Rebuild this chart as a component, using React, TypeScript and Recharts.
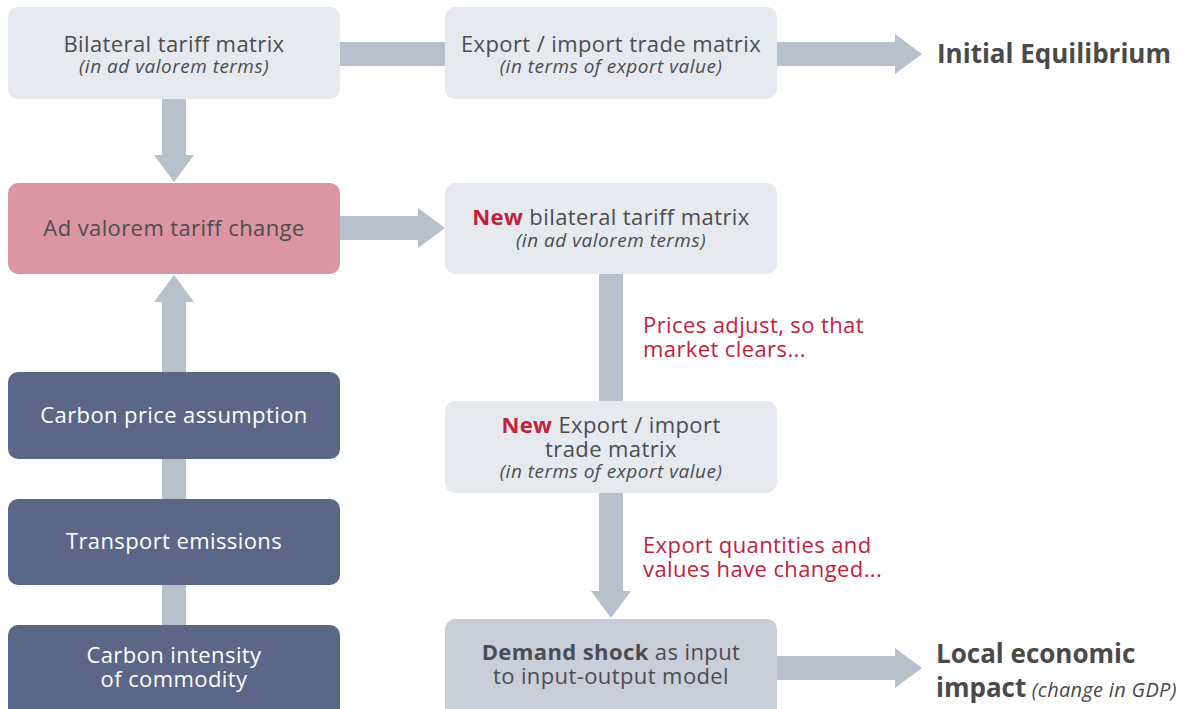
import React from 'react';
import {
  ScatterChart,
  Scatter,
  XAxis,
  YAxis,
  ReferenceArea,
  ReferenceLine,
} from 'recharts';

// layout units match the 1192 x 709 canvas (y grows downwards)
const W = 1192;
const H = 709;

type Box = { x1: number; x2: number; y1: number; y2: number; kind: string };
type Arrow = { x1: number; y1: number; x2: number; y2: number; head: boolean };
type Line = { x: number; y: number; text: string; tone: string; lead?: string; leadTone?: string; note?: string };

const boxes: Box[] = [
  { x1: 8, x2: 340, y1: 7, y2: 99, kind: 'light' },
  { x1: 445, x2: 777, y1: 7, y2: 99, kind: 'light' },
  { x1: 8, x2: 340, y1: 183, y2: 274, kind: 'pink' },
  { x1: 445, x2: 777, y1: 183, y2: 274, kind: 'light' },
  { x1: 8, x2: 340, y1: 372, y2: 459, kind: 'navy' },
  { x1: 445, x2: 777, y1: 401, y2: 493, kind: 'light' },
  { x1: 8, x2: 340, y1: 499, y2: 585, kind: 'navy' },
  { x1: 8, x2: 340, y1: 625, y2: 722, kind: 'navy' },
  { x1: 445, x2: 777, y1: 619, y2: 722, kind: 'demand' },
];

// x2/y2 is the tip when head = true
const arrows: Arrow[] = [
  { x1: 340, y1: 54, x2: 445, y2: 54, head: false },
  { x1: 777, y1: 54, x2: 922, y2: 54, head: true },
  { x1: 174, y1: 99, x2: 174, y2: 182, head: true },
  { x1: 340, y1: 228, x2: 445, y2: 228, head: true },
  { x1: 174, y1: 372, x2: 174, y2: 275, head: true },
  { x1: 174, y1: 459, x2: 174, y2: 499, head: false },
  { x1: 174, y1: 585, x2: 174, y2: 625, head: false },
  { x1: 611, y1: 274, x2: 611, y2: 401, head: false },
  { x1: 611, y1: 493, x2: 611, y2: 618, head: true },
  { x1: 777, y1: 668, x2: 922, y2: 668, head: true },
];

const boxText: Line[] = [
  { x: 174, y: 52, text: 'Bilateral tariff matrix', tone: 'main' },
  { x: 174, y: 73, text: '(in ad valorem terms)', tone: 'sub' },
  { x: 611, y: 52, text: 'Export / import trade matrix', tone: 'main' },
  { x: 611, y: 73, text: '(in terms of export value)', tone: 'sub' },
  { x: 174, y: 236, text: 'Ad valorem tariff change', tone: 'main' },
  { x: 611, y: 225, lead: 'New', leadTone: 'accent', text: ' bilateral tariff matrix', tone: 'main' },
  { x: 611, y: 247, text: '(in ad valorem terms)', tone: 'sub' },
  { x: 174, y: 423, text: 'Carbon price assumption', tone: 'inverse' },
  { x: 174, y: 549, text: 'Transport emissions', tone: 'inverse' },
  { x: 174, y: 663, text: 'Carbon intensity', tone: 'inverse' },
  { x: 174, y: 687, text: 'of commodity', tone: 'inverse' },
  { x: 611, y: 433, lead: 'New', leadTone: 'accent', text: ' Export / import', tone: 'main' },
  { x: 611, y: 457, text: 'trade matrix', tone: 'main' },
  { x: 611, y: 478, text: '(in terms of export value)', tone: 'sub' },
  { x: 611, y: 660, lead: 'Demand shock', leadTone: 'strong', text: ' as input', tone: 'main' },
  { x: 611, y: 684, text: 'to input-output model', tone: 'main' },
];

const notes: Line[] = [
  { x: 643, y: 333, text: 'Prices adjust, so that', tone: 'note' },
  { x: 643, y: 357, text: 'market clears...', tone: 'note' },
  { x: 643, y: 553, text: 'Export quantities and', tone: 'note' },
  { x: 643, y: 577, text: 'values have changed...', tone: 'note' },
];

const outcomes: Line[] = [
  { x: 937, y: 63, text: 'Initial Equilibrium', tone: 'title' },
  { x: 936, y: 663, text: 'Local economic', tone: 'title' },
  { x: 936, y: 697, text: 'impact', tone: 'title', note: ' (change in GDP)' },
];

const FONT = '"Open Sans", sans-serif';
const RED = '#c4213f';
const DARK = '#4b4d52';
const ARROW = '#b8c0cc';

const boxFill: Record<string, string> = {
  light: '#e6e9ee',
  pink: '#dc95a3',
  navy: '#5b6787',
  demand: '#c9ced8',
};

const toneStyle: Record<string, any> = {
  main: { fill: DARK, fontSize: 22, letterSpacing: 0.4 },
  sub: { fill: DARK, fontSize: 19, fontStyle: 'italic', letterSpacing: 0.5 },
  inverse: { fill: '#ffffff', fontSize: 22, letterSpacing: 0.4 },
  note: { fill: RED, fontSize: 22, letterSpacing: 0.4 },
  title: { fill: '#4a4a4a', fontSize: 26, fontWeight: 700 },
};

const leadStyle: Record<string, any> = {
  accent: { fill: RED, fontWeight: 700 },
  strong: { fill: DARK, fontWeight: 700 },
};

const BoxShape = (kind: string) => (p: any) => (
  <rect x={p.x} y={p.y} width={p.width} height={p.height} rx={10} ry={10} fill={boxFill[kind]} />
);

const ArrowShape = (head: boolean) => (p: any) => {
  const { x1, y1, x2, y2 } = p;
  const len = Math.hypot(x2 - x1, y2 - y1) || 1;
  const ux = (x2 - x1) / len;
  const uy = (y2 - y1) / len;
  const nx = -uy;
  const ny = ux;
  const hl = head ? 27 : 0;
  const sx = x2 - ux * hl;
  const sy = y2 - uy * hl;
  const hw = 12;
  const shaft = [
    [x1 + nx * hw, y1 + ny * hw],
    [sx + nx * hw, sy + ny * hw],
    [sx - nx * hw, sy - ny * hw],
    [x1 - nx * hw, y1 - ny * hw],
  ];
  const tri = [
    [x2, y2],
    [sx + nx * 20, sy + ny * 20],
    [sx - nx * 20, sy - ny * 20],
  ];
  return (
    <g>
      <polygon points={shaft.map((q) => q.join(',')).join(' ')} fill={ARROW} />
      {head ? <polygon points={tri.map((q) => q.join(',')).join(' ')} fill={ARROW} /> : null}
    </g>
  );
};

const TextShape = (anchor: 'middle' | 'start') => (p: any) => {
  const d: Line = p.payload;
  const st = toneStyle[d.tone];
  return (
    <text x={p.cx} y={p.cy} textAnchor={anchor} fontFamily={FONT} {...st}>
      {d.lead ? <tspan {...leadStyle[d.leadTone || 'strong']}>{d.lead}</tspan> : null}
      <tspan>{d.text}</tspan>
      {d.note ? (
        <tspan fontSize={20} fontWeight={400} fontStyle="italic" letterSpacing={0.3}>
          {d.note}
        </tspan>
      ) : null}
    </text>
  );
};

export default function App() {
  return (
    <div style={{ position: 'absolute', left: 0, top: 0, width: W, height: H, background: '#ffffff' }}>
      <ScatterChart width={W} height={H} margin={{ top: 0, right: 0, bottom: 0, left: 0 }}>
        <XAxis type="number" dataKey="x" domain={[0, W]} hide allowDataOverflow />
        <YAxis type="number" dataKey="y" domain={[0, H]} reversed hide allowDataOverflow />

        {arrows.map((a, i) => (
          <ReferenceLine
            key={`a${i}`}
            segment={[
              { x: a.x1, y: a.y1 },
              { x: a.x2, y: a.y2 },
            ]}
            ifOverflow="visible"
            shape={ArrowShape(a.head)}
          />
        ))}

        {boxes.map((b, i) => (
          <ReferenceArea
            key={`b${i}`}
            x1={b.x1}
            x2={b.x2}
            y1={b.y1}
            y2={b.y2}
            ifOverflow="visible"
            shape={BoxShape(b.kind)}
          />
        ))}

        <Scatter data={boxText} shape={TextShape('middle')} isAnimationActive={false} />
        <Scatter data={notes} shape={TextShape('start')} isAnimationActive={false} />
        <Scatter data={outcomes} shape={TextShape('start')} isAnimationActive={false} />
      </ScatterChart>
    </div>
  );
}
